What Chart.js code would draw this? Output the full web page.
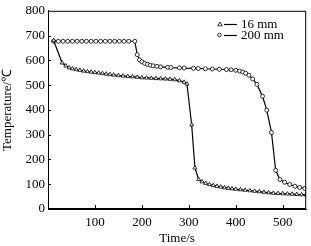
<!DOCTYPE html>
<html>
<head>
<meta charset="utf-8">
<script src="https://cdn.jsdelivr.net/npm/chart.js@4.4.0/dist/chart.umd.min.js"></script>
<style>
  html, body { margin: 0; padding: 0; background: #fff; }
  canvas { display: block; }
</style>
</head>
<body>
<canvas id="c" width="311" height="246"></canvas>
<script>
// 16 mm thickness (triangles)
const t16 = [12, 30, 38, 45, 52, 60, 68, 76, 84, 92, 100, 108, 116, 124, 132, 140, 150, 160, 170, 180,
  190, 200, 210, 220, 230, 240, 250, 260, 270, 280, 290, 296, 306, 313, 321, 328, 336, 344, 352, 360,
  368, 376, 384, 392, 400, 410, 420, 430, 440, 450, 460, 470, 480, 490, 500, 510, 520, 530, 540, 550];
const temp16 = [680, 590, 578, 570, 566, 563, 560, 557, 555, 553, 551, 549, 547, 545, 543, 541, 539, 537, 535, 534,
  532, 530, 529, 528, 527, 526, 525, 524, 522, 518, 512, 505, 340, 166, 119, 110, 104, 99, 95, 92,
  89, 86, 84, 82, 80, 78, 76, 74, 72, 70, 68, 66, 64, 63, 62, 61, 60, 59, 58, 57];

// 200 mm thickness (circles)
const t200 = [12, 22, 32, 42, 52, 62, 72, 82, 92, 102, 112, 122, 132, 142, 152, 162, 172, 185,
  190, 195, 200, 206, 212, 218, 224, 232, 240, 255, 262, 280, 290, 310, 320, 335, 350, 365, 380, 390,
  400, 408, 415, 421, 428, 436, 445, 457, 466, 476, 485, 494, 504, 515, 526, 536, 547];
const temp200 = [677, 677, 677, 677, 677, 677, 677, 677, 677, 677, 677, 677, 677, 677, 677, 677, 677, 677,
  623, 602, 594, 588, 584, 580, 578, 576, 574, 572, 571, 570, 569, 568, 567, 566, 565, 564, 563, 562,
  560, 557, 553, 548, 540, 525, 503, 455, 399, 309, 156, 119, 108, 99, 92, 87, 83];

const seriesLabels = ['16 mm', '200 mm'];
const xTicks = [100, 200, 300, 400, 500];
const yMax = 800, xMax = 550;

const FONT = 'Liberation Serif';

function pts(xs, ys) { return xs.map((x, i) => ({ x: x, y: ys[i] })); }

// frame, inward ticks and legend
const decor = {
  id: 'decor',
  afterDraw(chart) {
    const ctx = chart.ctx, a = chart.chartArea;
    const xs = chart.scales.x, ys = chart.scales.y;
    ctx.save();
    ctx.strokeStyle = '#000';
    ctx.lineWidth = 1;
    ctx.strokeRect(a.left + 0.5, a.top + 0.5, a.right - a.left - 1, a.bottom - a.top - 1);
    ctx.beginPath();
    xTicks.forEach(v => {
      const px = Math.round(xs.getPixelForValue(v)) + 0.5;
      ctx.moveTo(px, a.bottom); ctx.lineTo(px, a.bottom - 4);
    });
    ys.ticks.forEach(t => {
      if (t.value <= 0 || t.value >= yMax) return;
      const py = Math.round(ys.getPixelForValue(t.value)) + 0.5;
      ctx.moveTo(a.left, py); ctx.lineTo(a.left + 3, py);
    });
    ctx.stroke();

    // legend
    ctx.font = '13px "' + FONT + '"';
    ctx.fillStyle = '#000';
    ctx.textBaseline = 'middle';
    chart.data.datasets.forEach((ds, i) => {
      const y = 24 + i * 11;
      ctx.beginPath();
      ctx.moveTo(224, y + 0.5); ctx.lineTo(237, y + 0.5);
      ctx.lineWidth = 1.2;
      ctx.stroke();
      ctx.lineWidth = 0.8;
      ctx.beginPath();
      if (ds.pointStyle === 'triangle') {
        ctx.moveTo(220, y - 2); ctx.lineTo(222.2, y + 1.8); ctx.lineTo(217.8, y + 1.8); ctx.closePath();
      } else {
        ctx.arc(219.5, y, 1.8, 0, Math.PI * 2);
      }
      ctx.fillStyle = '#fff'; ctx.fill(); ctx.stroke();
      ctx.fillStyle = '#000';
      ctx.fillText(ds.label, 241, y + 1);
    });
    ctx.restore();
  }
};

new Chart(document.getElementById('c'), {
  type: 'line',
  data: {
    datasets: [
      {
        label: seriesLabels[0], data: pts(t16, temp16),
        borderColor: '#000', borderWidth: 1.2, tension: 0,
        pointStyle: 'triangle', pointRadius: 2.3, pointBorderWidth: 0.8,
        pointBackgroundColor: '#fff', pointBorderColor: '#000'
      },
      {
        label: seriesLabels[1], data: pts(t200, temp200),
        borderColor: '#000', borderWidth: 1.2, tension: 0,
        pointStyle: 'circle', pointRadius: 2, pointBorderWidth: 0.8,
        pointBackgroundColor: '#fff', pointBorderColor: '#000'
      }
    ]
  },
  options: {
    responsive: false,
    animation: false,
    layout: { padding: { top: 7, right: 4, left: 0, bottom: 0 } },
    plugins: { legend: { display: false }, tooltip: { enabled: false } },
    scales: {
      x: {
        type: 'linear', min: 0, max: xMax,
        afterFit(s) { s.height = 37; },
        afterBuildTicks(s) { s.ticks = xTicks.map(v => ({ value: v })); },
        grid: { display: false, drawTicks: false },
        border: { display: true, color: '#000', width: 1 },
        ticks: { color: '#000', padding: 6, font: { family: FONT, size: 13 }, maxRotation: 0 },
        title: { display: true, text: 'Time/s', color: '#000', font: { family: FONT, size: 13 }, padding: { top: 0, bottom: 0 } }
      },
      y: {
        type: 'linear', min: 0, max: yMax,
        afterFit(s) { s.width = 48; },
        grid: { display: false, drawTicks: false },
        border: { display: true, color: '#000', width: 1 },
        ticks: { stepSize: 100, color: '#000', padding: 3, font: { family: FONT, size: 13 } },
        title: { display: true, text: 'Temperature/\u2103', color: '#000', font: { family: FONT, size: 13 }, padding: { top: 0, bottom: 0 } }
      }
    }
  },
  plugins: [decor]
});
</script>
</body>
</html>
